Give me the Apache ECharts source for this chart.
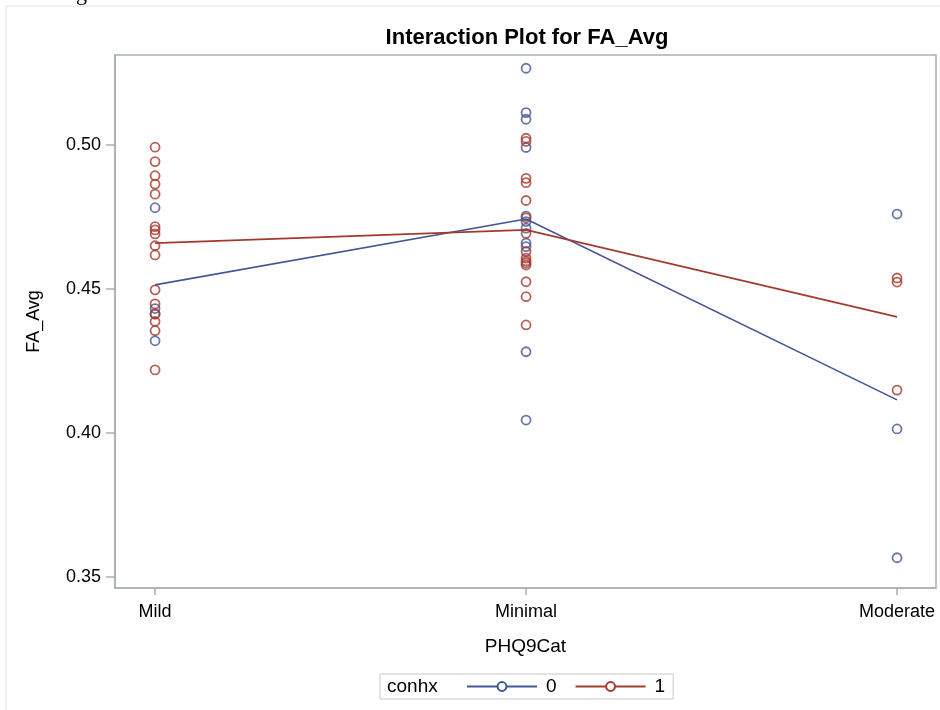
<!DOCTYPE html>
<html>
<head>
<meta charset="utf-8">
<script src="https://cdn.jsdelivr.net/npm/echarts@6/dist/echarts.min.js"></script>
<style>
  html, body { margin: 0; padding: 0; background: #fff; }
  #chart { width: 940px; height: 710px; }
</style>
</head>
<body>
<div id="chart"></div>
<script>
// PHQ9 categories along the x axis
const categories = ['Mild', 'Minimal', 'Moderate'];
const yTicks = [0.35, 0.40, 0.45, 0.50];

// Individual FA_Avg observations, conhx = 0
const mildBlue = [0.4782, 0.4432, 0.4414, 0.4320];
const minimalBlue = [0.5266, 0.5112, 0.5089, 0.4991, 0.4753, 0.4734, 0.4711, 0.4659, 0.4647, 0.4282, 0.4045];
const moderateBlue = [0.4760, 0.4014, 0.3567];

// Individual FA_Avg observations, conhx = 1
const mildRed = [0.4992, 0.4942, 0.4893, 0.4864, 0.4829, 0.4716, 0.4705, 0.4691, 0.4650, 0.4618, 0.4497, 0.4448, 0.4412, 0.4387, 0.4355, 0.4219];
const minimalRed = [0.5023, 0.5012, 0.4884, 0.4869, 0.4807, 0.4747, 0.4693, 0.4630, 0.4607, 0.4597, 0.4590, 0.4583, 0.4525, 0.4473, 0.4375];
const moderateRed = [0.4538, 0.4524, 0.4149];

// Group means per category
const meanBlue = [0.4514, 0.4743, 0.4115];
const meanRed = [0.4659, 0.4705, 0.4403];

const BLUE = '#445694';
const RED = '#A23A2E';
const AXIS = '#a9b0b5';
const FONT = '"Liberation Sans", Arial, sans-serif';

function points(groups) {
  const out = [];
  groups.forEach((vals, i) => vals.forEach(v => out.push([i, v])));
  return out;
}

const catIdx = categories.map((_, i) => i);

const chart = echarts.init(document.getElementById('chart'), null, { renderer: 'canvas' });

chart.setOption({
  animation: false,
  backgroundColor: '#fff',
  textStyle: { fontFamily: FONT },
  title: {
    text: 'Interaction Plot for FA_Avg',
    left: 522, top: 22, textAlign: 'center',
    textStyle: { fontFamily: FONT, fontSize: 22, fontWeight: 'bold', color: '#000' }
  },
  grid: {
    left: 115, right: 4, top: 55, bottom: 122,
    show: true, borderColor: AXIS, borderWidth: 1.5, backgroundColor: '#fff'
  },
  xAxis: {
    type: 'value', min: -0.108, max: 2.105,
    name: 'PHQ9Cat', nameLocation: 'middle', nameGap: 49,
    nameTextStyle: { fontFamily: FONT, fontSize: 19, color: '#000' },
    splitLine: { show: false },
    axisLine: { onZero: false, lineStyle: { color: AXIS, width: 1.5 } },
    axisTick: { customValues: catIdx, length: 7, lineStyle: { color: AXIS, width: 1.5 } },
    axisLabel: {
      customValues: catIdx, margin: 15,
      fontFamily: FONT, fontSize: 18, color: '#000',
      formatter: (v) => categories[Math.round(v)]
    }
  },
  yAxis: {
    type: 'value', min: 0.3462, max: 0.5312,
    name: 'FA_Avg', nameLocation: 'middle', nameGap: 72,
    nameTextStyle: { fontFamily: FONT, fontSize: 18, color: '#000' },
    splitLine: { show: false },
    axisLine: { show: true, onZero: false, lineStyle: { color: AXIS, width: 1.5 } },
    axisTick: { show: true, customValues: yTicks, length: 9, lineStyle: { color: AXIS, width: 1.5 } },
    axisLabel: {
      customValues: yTicks, margin: 14,
      fontFamily: FONT, fontSize: 18, color: '#000',
      formatter: (v) => v.toFixed(2)
    }
  },
  legend: {
    data: ['0', '1'],
    left: 380, top: 674,
    padding: [3, 8, 3, 86],
    borderColor: '#c8c8c8', borderWidth: 1, borderRadius: 0,
    itemWidth: 70, itemHeight: 11, itemGap: 18,
    textStyle: { fontFamily: FONT, fontSize: 19, color: '#000', padding: [0, 0, 0, 4] },
    selectedMode: false
  },
  graphic: [
    { type: 'rect', shape: { x: 6, y: 6, width: 960, height: 730 },
      style: { fill: 'none', stroke: '#e4e4e4', lineWidth: 1 }, silent: true },
    { type: 'text', left: 76, top: -17,
      style: { text: 'g', font: '22px "Liberation Serif", serif', fill: '#000' }, silent: true },
    { type: 'text', left: 387, top: 677,
      style: { text: 'conhx', font: '19px "Liberation Sans", Arial, sans-serif', fill: '#000' }, silent: true }
  ],
  series: [
    {
      name: '0', type: 'line', data: meanBlue.map((v, i) => [i, v]),
      symbol: 'emptyCircle', symbolSize: 9, showSymbol: false,
      lineStyle: { color: BLUE, width: 1.6 }, itemStyle: { color: BLUE }, z: 3
    },
    {
      name: '1', type: 'line', data: meanRed.map((v, i) => [i, v]),
      symbol: 'emptyCircle', symbolSize: 9, showSymbol: false,
      lineStyle: { color: RED, width: 1.6 }, itemStyle: { color: RED }, z: 3
    },
    {
      name: '0', type: 'scatter', data: points([mildBlue, minimalBlue, moderateBlue]),
      symbol: 'circle', symbolSize: 9, itemStyle: { color: 'rgba(0,0,0,0)', borderColor: BLUE, borderWidth: 1.8 }, z: 2
    },
    {
      name: '1', type: 'scatter', data: points([mildRed, minimalRed, moderateRed]),
      symbol: 'circle', symbolSize: 9, itemStyle: { color: 'rgba(0,0,0,0)', borderColor: RED, borderWidth: 1.8 }, z: 2
    }
  ]
});
</script>
</body>
</html>
